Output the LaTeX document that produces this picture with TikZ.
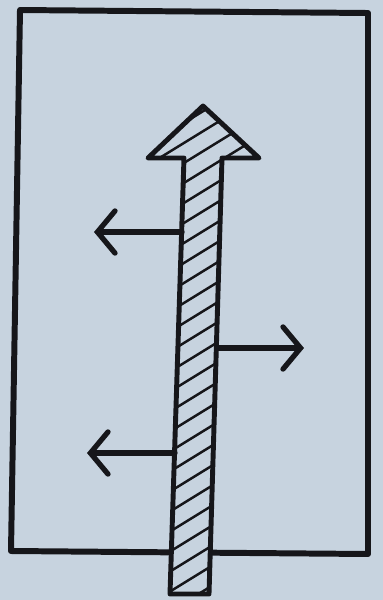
\documentclass[tikz,border=0pt]{standalone}
\usetikzlibrary{arrows.meta}
\definecolor{paper}{RGB}{199,211,223}
\definecolor{ink}{RGB}{22,22,26}

\begin{document}
\begin{tikzpicture}[x=0.02cm,y=-0.02cm,
  frame/.style={line width=3.4pt, ink, line join=round},
  outline/.style={line width=2.8pt, ink, line join=round},
  hatch/.style={line width=1.4pt, ink},
  sidearrow/.style={line width=3pt, ink, line cap=round, -{Straight Barb[length=10pt,width=24pt,line cap=round]}}]
% paper
\fill[paper] (0,0) rectangle (383,600);
\draw[frame] (20,10) -- (368,13) -- (368,554) -- (11,551) -- cycle;

% big hatched arrow
\coordinate (bl) at (170,594);
\coordinate (br) at (209,594);
\coordinate (sr) at (222,158);
\coordinate (hr) at (259,158);
\coordinate (tip) at (203,106);
\coordinate (hl) at (148,158);
\coordinate (sl) at (184,158);
\fill[paper] (bl) -- (br) -- (sr) -- (hr) -- (tip) -- (hl) -- (sl) -- cycle;
\begin{scope}
\clip (bl) -- (br) -- (sr) -- (hr) -- (tip) -- (hl) -- (sl) -- cycle;
\foreach \y in {150,170,...,730}
  \draw[hatch] (140,\y) -- ++(130,-80);
\end{scope}
\draw[outline] (bl) -- (br) -- (sr) -- (hr) -- (tip) -- (hl) -- (sl) -- cycle;

% side arrows
\coordinate (upleft) at (182,232);
\coordinate (upend) at (94,232);
\coordinate (midright) at (217,348);
\coordinate (midend) at (304,348);
\coordinate (lowleft) at (175,453);
\coordinate (lowend) at (87,453);
\draw[sidearrow] (upleft) -- (upend);
\draw[sidearrow] (midright) -- (midend);
\draw[sidearrow] (lowleft) -- (lowend);
\end{tikzpicture}
\end{document}
